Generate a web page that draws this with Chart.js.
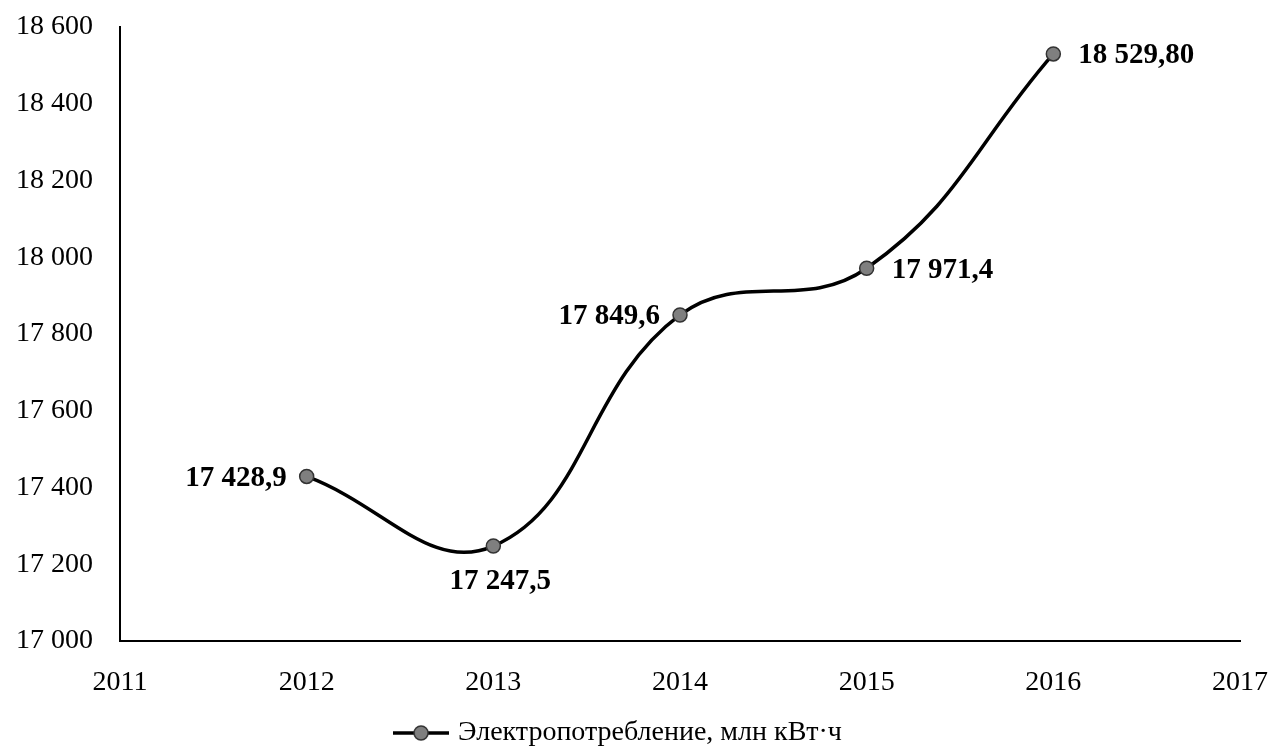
<!DOCTYPE html>
<html>
<head>
<meta charset="utf-8">
<script src="https://cdn.jsdelivr.net/npm/chart.js@4/dist/chart.umd.min.js"></script>
<style>
  html, body { margin: 0; padding: 0; background: #fff; }
  #wrap { width: 1271px; height: 751px; }
</style>
</head>
<body>
<div id="wrap"><canvas id="chart"></canvas></div>
<script>
// === Datos ===
const years = [2012, 2013, 2014, 2015, 2016];
const consumo = [17428.9, 17247.5, 17849.6, 17971.4, 18529.8];
const etiquetas = ['17 428,9', '17 247,5', '17 849,6', '17 971,4', '18 529,80'];
const serieNombre = 'Электропотребление, млн кВт·ч';

const FONT = "'Liberation Serif', 'Times New Roman', serif";

// separador de miles con espacio
function miles(v){ return String(v).replace(/\B(?=(\d{3})+(?!\d))/g, ' '); }

// icono de leyenda: línea con marcador
function iconoLeyenda(){
  const c = document.createElement('canvas');
  c.width = 56; c.height = 18;
  const g = c.getContext('2d');
  g.strokeStyle = '#000'; g.lineWidth = 3.5;
  g.beginPath(); g.moveTo(0, 9); g.lineTo(56, 9); g.stroke();
  g.beginPath(); g.arc(28, 9, 7, 0, Math.PI * 2);
  g.fillStyle = '#7f7f7f'; g.fill();
  g.lineWidth = 1.5; g.strokeStyle = '#333'; g.stroke();
  return c;
}

// etiquetas de datos (posición relativa al punto)
const etiquetasPlugin = {
  id: 'etiquetas',
  afterDatasetsDraw(chart){
    const ctx = chart.ctx;
    const meta = chart.getDatasetMeta(0);
    const pos = [
      {dx: -20, dy: 2, align: 'right'},
      {dx: 7, dy: 35, align: 'center'},
      {dx: -20, dy: 2, align: 'right'},
      {dx: 25, dy: 2, align: 'left'},
      {dx: 25, dy: 2, align: 'left'}
    ];
    ctx.save();
    ctx.font = 'bold 29px ' + FONT;
    ctx.fillStyle = '#000';
    ctx.textBaseline = 'middle';
    meta.data.forEach((pt, i) => {
      const p = pos[i];
      ctx.textAlign = p.align;
      ctx.fillText(etiquetas[i], pt.x + p.dx, pt.y + p.dy);
    });
    ctx.restore();
  }
};

const icono = iconoLeyenda();

new Chart(document.getElementById('chart'), {
  type: 'line',
  data: {
    datasets: [{
      label: serieNombre,
      data: years.map((y, i) => ({x: y, y: consumo[i]})),
      borderColor: '#000',
      borderWidth: 3.5,
      tension: 0.42,
      pointRadius: 7,
      pointHoverRadius: 7,
      pointBackgroundColor: '#7f7f7f',
      pointBorderColor: '#333',
      pointBorderWidth: 1.5,
      fill: false,
      clip: false
    }]
  },
  options: {
    responsive: true,
    maintainAspectRatio: false,
    animation: false,
    layout: { padding: { top: 27, right: 31, left: 0, bottom: -6 } },
    plugins: {
      legend: {
        position: 'bottom',
        labels: {
          usePointStyle: true,
          pointStyleWidth: 46,
          color: '#000',
          font: { family: FONT, size: 28 },
          padding: 0,
          generateLabels(chart){
            const items = Chart.defaults.plugins.legend.labels.generateLabels(chart);
            items.forEach(it => { it.pointStyle = icono; });
            return items;
          }
        }
      },
      tooltip: { enabled: false }
    },
    scales: {
      x: {
        type: 'linear',
        min: 2011,
        max: 2017,
        grid: { display: false, drawTicks: false },
        border: { color: '#000', width: 2 },
        ticks: {
          stepSize: 1,
          padding: 25,
          color: '#000',
          font: { family: FONT, size: 28 },
          callback: v => String(v)
        },
        afterFit(s){ s.height = 78; s.paddingLeft = 0; s.paddingRight = 0; }
      },
      y: {
        min: 17000,
        max: 18600,
        grid: { display: false, drawTicks: false },
        border: { color: '#000', width: 2 },
        ticks: {
          stepSize: 200,
          padding: 27,
          color: '#000',
          font: { family: FONT, size: 28, lineHeight: 1 },
          callback: v => miles(v)
        },
        afterFit(s){ s.width = 120; s.paddingTop = 0; s.paddingBottom = 0; }
      }
    }
  },
  plugins: [etiquetasPlugin]
});
</script>
</body>
</html>
